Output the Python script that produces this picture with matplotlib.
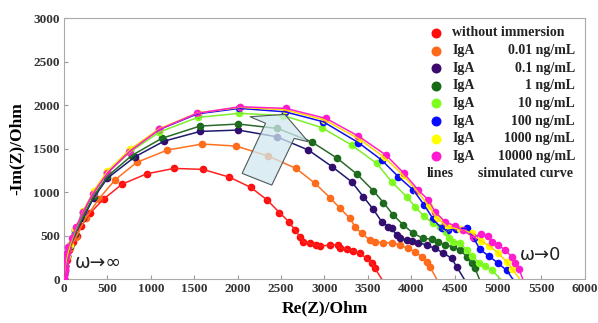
import matplotlib.pyplot as plt
from matplotlib.patches import Polygon

# measured points (Re Z, -Im Z) in Ohm
red_x = [0, 10, 30, 60, 100, 146, 200, 300, 457, 668, 953, 1267, 1598, 1905, 2151, 2342, 2481,
         2589, 2661, 2719, 2757, 2834, 2900, 2949, 3065, 3157, 3180, 3257, 3333, 3410, 3487, 3545, 3583]
red_y = [0, 100, 220, 330, 430, 500, 610, 758, 920, 1090, 1210, 1272, 1261, 1172, 1054, 908, 765,
         661, 563, 486, 429, 410, 390, 379, 391, 391, 356, 341, 325, 295, 238, 180, 123]

orange_x = [0, 5, 15, 35, 70, 138, 250, 400, 588, 837, 1190, 1590, 1982, 2354, 2673, 2892, 3065,
            3180, 3295, 3353, 3429, 3525, 3583, 3679, 3775, 3871, 3967, 4044, 4120, 4178, 4217]
orange_y = [0, 60, 150, 250, 360, 479, 700, 920, 1140, 1341, 1483, 1552, 1529, 1414, 1272, 1100, 935,
            813, 698, 601, 525, 448, 429, 417, 417, 391, 352, 314, 257, 199, 141]

purple_x = [0, 5, 15, 35, 70, 130, 220, 340, 500, 818, 1152, 1567, 2008, 2450, 2815, 3090, 3314,
            3449, 3564, 3660, 3737, 3775, 3833, 3871, 3948, 4010, 4080, 4178, 4274, 4370, 4466, 4524]
purple_y = [0, 60, 150, 260, 380, 520, 700, 930, 1160, 1406, 1585, 1697, 1713, 1636, 1483, 1291, 1118,
            946, 800, 659, 601, 582, 506, 467, 448, 440, 420, 391, 352, 300, 238, 141]

green_x = [0, 5, 15, 35, 70, 130, 220, 340, 500, 780, 1125, 1567, 2008, 2458, 2853, 3150, 3370,
           3564, 3679, 3794, 3910, 4025, 4140, 4236, 4313, 4389, 4485, 4562, 4639, 4697, 4735]
green_y = [0, 60, 150, 260, 380, 530, 720, 950, 1180, 1420, 1617, 1759, 1782, 1732, 1578, 1387, 1210,
           1015, 880, 736, 621, 525, 467, 460, 429, 391, 371, 333, 257, 180, 123]

lgreen_x = [0, 5, 15, 35, 70, 130, 220, 340, 500, 760, 1100, 1540, 2020, 2527, 2968, 3314, 3602,
            3775, 3948, 4044, 4150, 4250, 4332, 4400, 4440, 4480, 4560, 4640, 4700, 4780, 4850, 4930]
lgreen_y = [0, 60, 150, 260, 390, 550, 760, 990, 1220, 1460, 1690, 1858, 1905, 1880, 1742, 1540, 1330,
            1118, 946, 831, 720, 640, 600, 540, 470, 430, 420, 330, 260, 190, 150, 100]

blue_x = [0, 5, 15, 35, 70, 130, 220, 340, 500, 760, 1100, 1540, 2020, 2546, 2987, 3391, 3660,
          3852, 4025, 4150, 4255, 4351, 4420, 4520, 4639, 4720, 4793, 4900, 5004, 5100]
blue_y = [0, 60, 150, 260, 390, 560, 770, 1000, 1230, 1480, 1720, 1900, 1962, 1923, 1808, 1569, 1368,
          1176, 1023, 850, 686, 582, 560, 580, 582, 470, 340, 260, 180, 100]

yellow_x = [0, 5, 15, 35, 70, 130, 220, 340, 500, 760, 1100, 1540, 2030, 2550, 3000, 3400, 3690,
            3900, 4070, 4200, 4300, 4420, 4560, 4700, 4800, 4900, 5000, 5100, 5160]
yellow_y = [0, 60, 150, 260, 390, 570, 780, 1010, 1240, 1490, 1730, 1910, 1975, 1945, 1830, 1610, 1400,
            1200, 1010, 840, 700, 600, 570, 530, 440, 380, 300, 200, 120]

magenta_x = [0, 2, 4, 6, 8, 10, 13, 16, 20, 30, 50, 88, 138, 222, 330, 499, 753, 1098, 1529, 2028,
             2554, 3018, 3391, 3710, 3917, 4082, 4198, 4274, 4389, 4505, 4600, 4716, 4800, 4889,
             4927, 5004, 5081, 5157, 5196, 5240]
magenta_y = [0, 30, 60, 90, 120, 150, 180, 210, 250, 300, 370, 467, 601, 773, 977, 1215, 1463, 1720,
             1905, 1981, 1962, 1847, 1644, 1425, 1215, 1023, 908, 774, 659, 610, 560, 480, 520, 500,
             429, 391, 333, 257, 180, 120]

# where each simulated curve meets the real axis
fit_end_x = [3660, 4293, 4610, 4785, 5030, 5170, 5250, 5285]

labels = ["without immersion", "0.01 ng/mL", "0.1 ng/mL", "1 ng/mL", "10 ng/mL",
          "100 ng/mL", "1000 ng/mL", "10000 ng/mL"]
colors = ["#ff0d0d", "#ff6a1a", "#3a0a6e", "#176b17", "#7fff1f", "#0a0aff", "#ffff00", "#ff1ad2"]
line_colors = ["#ff2020", "#ff7020", "#1e1a70", "#2a6a2a", "#7fee2a", "#1010ee", "#ffd800", "#ff20c8"]

series = [(red_x, red_y), (orange_x, orange_y), (purple_x, purple_y), (green_x, green_y),
          (lgreen_x, lgreen_y), (blue_x, blue_y), (yellow_x, yellow_y), (magenta_x, magenta_y)]

serif = "Liberation Serif"

fig = plt.figure(figsize=(5.98, 3.23), dpi=100)
ax = fig.add_axes([0.107, 0.136, 0.871, 0.808])

for (xs, ys), end, c, lc in zip(series, fit_end_x, colors, line_colors):
    ax.plot(xs, ys, "o", color=c, ms=5.5, mec="none", zorder=3)
    ax.plot(xs + [end], ys + [0], "-", color=lc, lw=1.1, zorder=4)

ax.set_xlim(0, 6000)
ax.set_ylim(0, 3000)
ax.set_xticks(range(0, 6001, 500))
ax.set_yticks(range(0, 3001, 500))
ax.tick_params(direction="in", length=3, color="#999999", pad=3)
for lab in ax.get_xticklabels() + ax.get_yticklabels():
    lab.set_fontfamily(serif)
    lab.set_fontweight("bold")
    lab.set_fontsize(9.5)
    lab.set_color("#333333")
for sp in ax.spines.values():
    sp.set_color("#aaaaaa")

ax.set_xlabel("Re(Z)/Ohm", fontfamily=serif, fontweight="bold", fontsize=12.5, labelpad=4)
ax.set_ylabel("-Im(Z)/Ohm", fontfamily=serif, fontweight="bold", fontsize=12.5, labelpad=6)

# legend built by hand
row_y = [0.943 - i * 0.0675 for i in range(9)]
for i, (lab, c) in enumerate(zip(labels, colors)):
    ax.scatter([0.7135], [row_y[i]], s=38, color=c, transform=ax.transAxes, zorder=6, clip_on=False)
    if i == 0:
        ax.text(0.744, row_y[i], lab, transform=ax.transAxes, ha="left", va="center",
                fontfamily=serif, fontweight="bold", fontsize=10, color="#222222")
    else:
        ax.text(0.746, row_y[i], "IgA", transform=ax.transAxes, ha="left", va="center",
                fontfamily=serif, fontweight="bold", fontsize=10, color="#222222")
        ax.text(0.981, row_y[i], lab, transform=ax.transAxes, ha="right", va="center",
                fontfamily=serif, fontweight="bold", fontsize=10, color="#222222")
ax.text(0.697, row_y[8], "lines", transform=ax.transAxes, ha="left", va="center",
        fontfamily=serif, fontweight="bold", fontsize=10, color="#222222")
ax.text(0.978, row_y[8], "simulated curve", transform=ax.transAxes, ha="right", va="center",
        fontfamily=serif, fontweight="bold", fontsize=10, color="#222222")

ax.text(0.021, 0.064, "ω→∞", transform=ax.transAxes, fontsize=13.5, color="#222222", va="center")
ax.text(0.875, 0.094, "ω→0", transform=ax.transAxes, fontsize=13, color="#222222", va="center")

# shaded arrow showing the trend with concentration
arrow = Polygon([(0.342, 0.405), (0.387, 0.597), (0.357, 0.622), (0.424, 0.631),
                 (0.469, 0.526), (0.442, 0.539), (0.399, 0.360)],
                closed=True, transform=ax.transAxes, facecolor=(0.82, 0.91, 0.94, 0.75),
                edgecolor="#505858", lw=0.8, zorder=5)
ax.add_patch(arrow)

fig.savefig("out.png", dpi=100)
